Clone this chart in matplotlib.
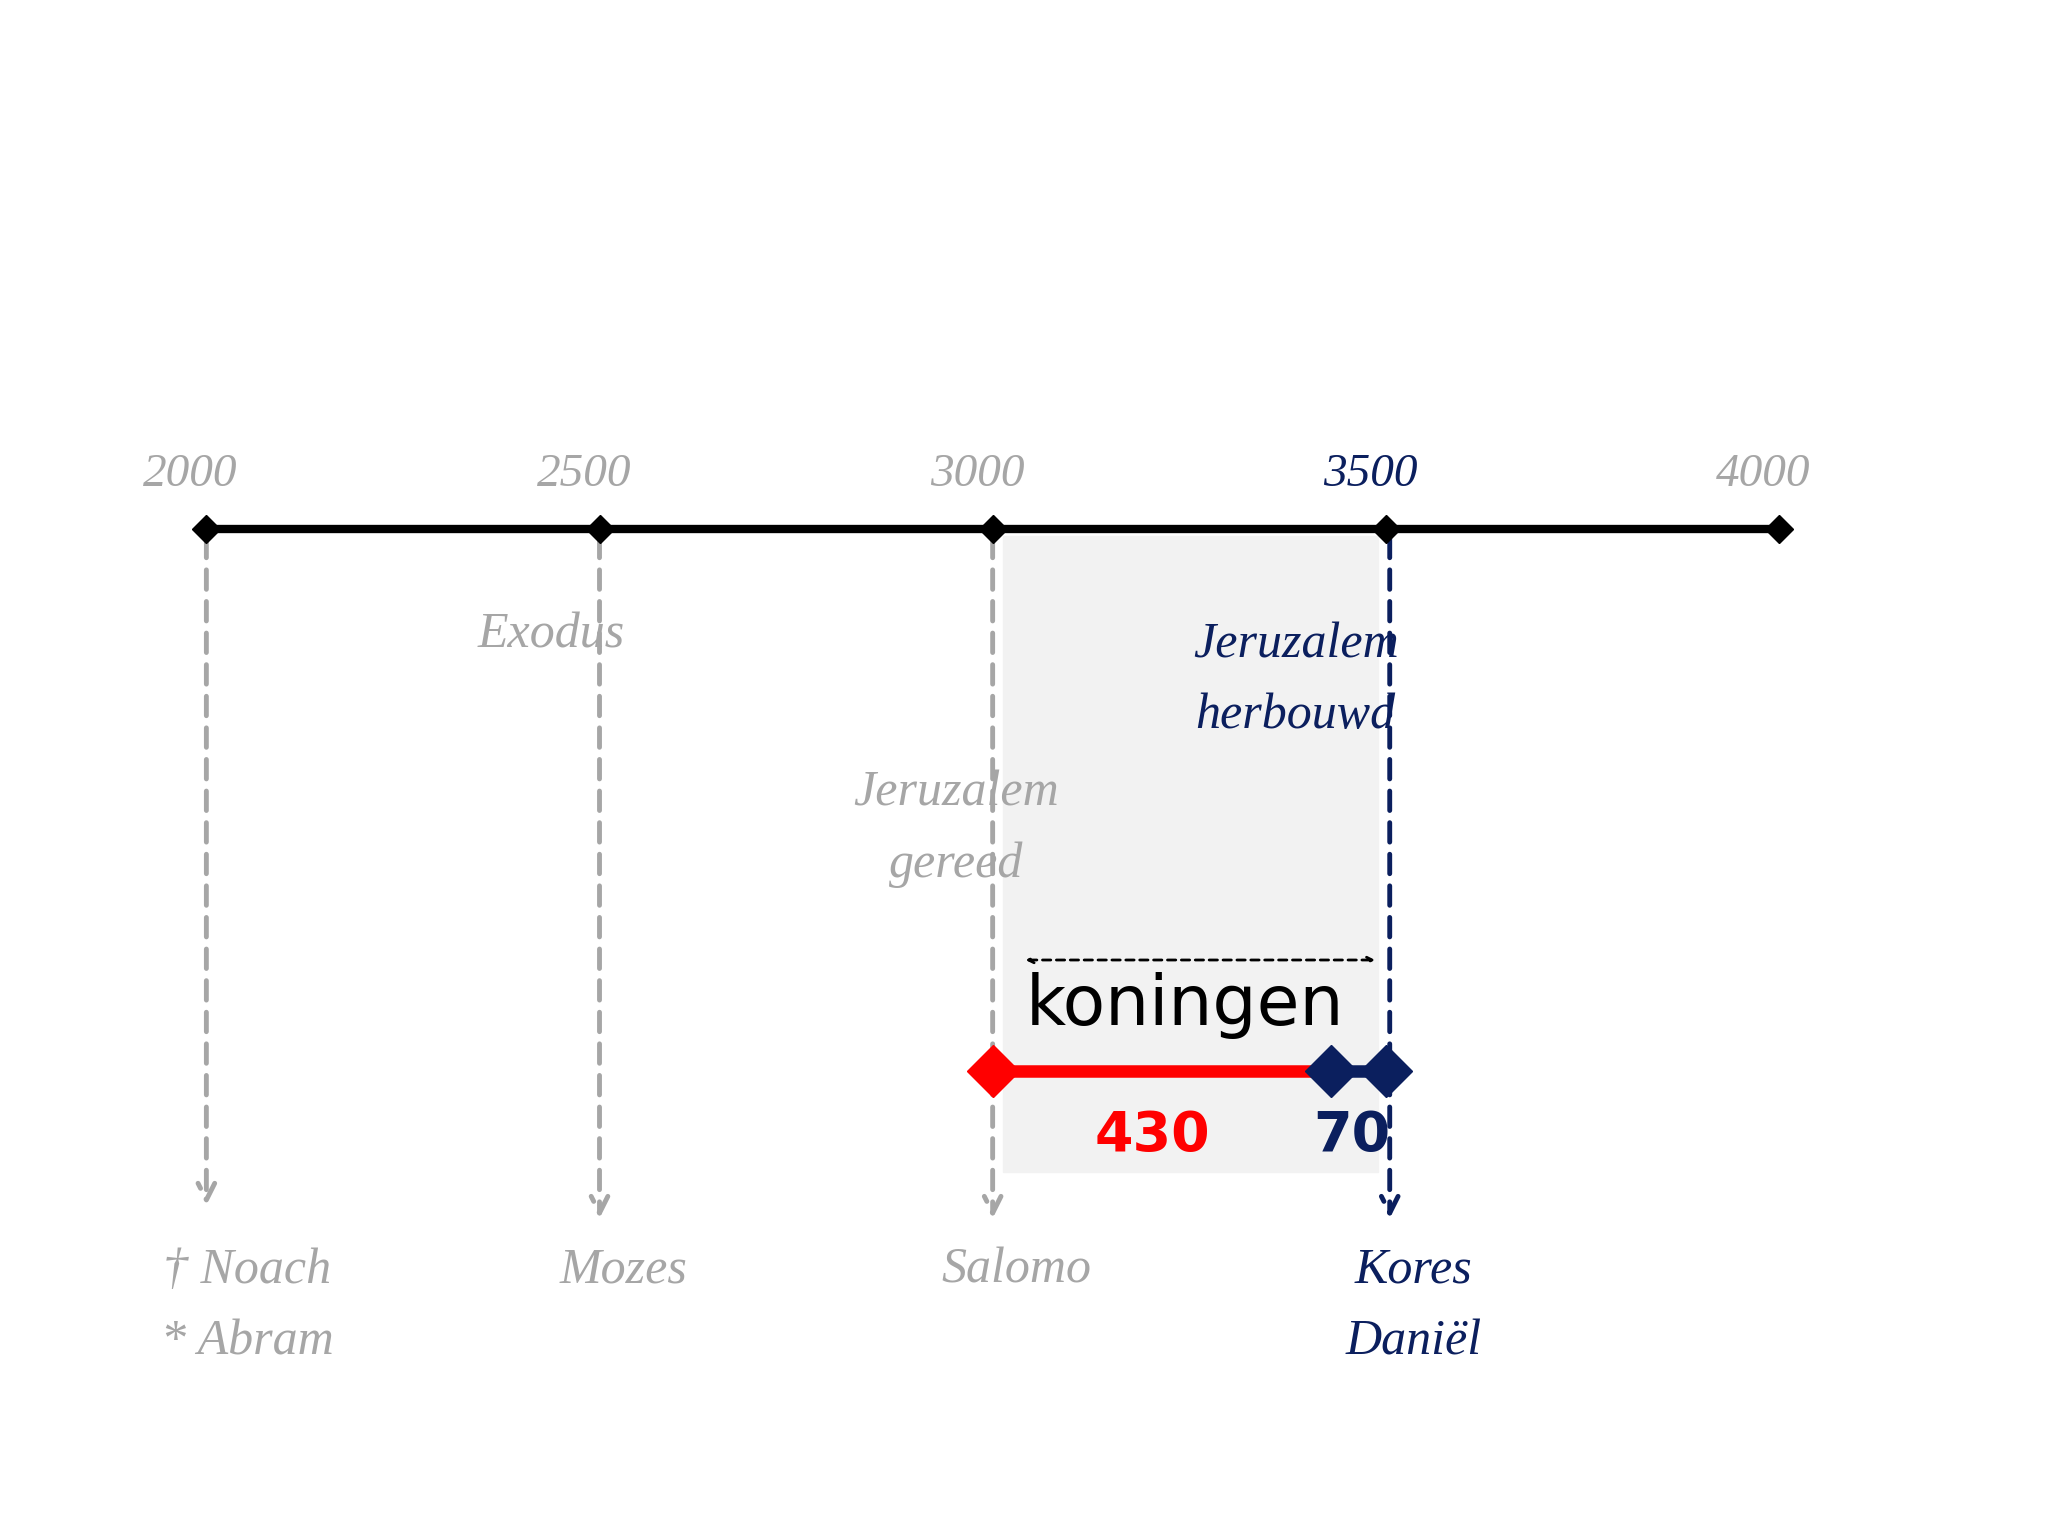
import matplotlib.pyplot as plt

years = [2000, 2500, 3000, 3500, 4000]
tick_labels = ["2000", "2500", "3000", "3500", "4000"]
events = [2000, 2500, 3000, 3505]
bottom_labels = ["† Noach\n* Abram", "Mozes", "Salomo", "Kores\nDaniël"]
period_start = 3000
period_red = 430
period_navy = 70

GREY = "#a6a6a6"
NAVY = "#0b1f5e"
RED = "#ff0000"
SERIF = ["Liberation Serif", "DejaVu Serif"]

def px(x):
    return 2000 + (x - 158) * 500 / 301

fig = plt.figure(figsize=(20.48, 15.36), dpi=100)
ax = fig.add_axes([0, 0, 1, 1])
ax.set_xlim(px(0), px(1568))
ax.set_ylim(1176, 0)
ax.axis("off")

# shaded koningen period
ax.axvspan(px(768), px(1055), ymin=1 - 897 / 1176, ymax=1 - 410 / 1176, color="#f2f2f2", zorder=0)

# main timeline
ax.plot([years[0], years[-1]], [405, 405], color="black", lw=6, zorder=3)
ax.plot(years, [405] * len(years), "D", color="black", ms=14, zorder=4)
for yr, lab in zip(years, tick_labels):
    ax.text(yr - 20, 380, lab, ha="center", va="bottom", fontsize=34,
            family=SERIF, style="italic", color=NAVY if yr == 3500 else GREY)

# dashed event lines with arrows
for i, yr in enumerate(events):
    col = NAVY if yr > 3400 else GREY
    end = 925 if i == 0 else 935
    ax.annotate("", xy=(yr, end), xytext=(yr, 410),
                arrowprops=dict(arrowstyle="->", color=col, lw=3.5, ls=(0, (4, 2.5)),
                                mutation_scale=30), zorder=2)
    ax.text(yr + (52 if i == 0 else 30), 955, bottom_labels[i], ha="center", va="top",
            fontsize=36, family=SERIF, style="italic", color=col, linespacing=1.7)

ax.text(px(422), 486, "Exodus", ha="center", va="center", fontsize=36,
        family=SERIF, style="italic", color=GREY)
ax.text(px(732), 635, "Jeruzalem\ngereed", ha="center", va="center", fontsize=36,
        family=SERIF, style="italic", color=GREY, linespacing=1.7)
ax.text(px(992), 521, "Jeruzalem\nherbouwd", ha="center", va="center", fontsize=36,
        family=SERIF, style="italic", color=NAVY, linespacing=1.7)

# koningen arrow
ax.annotate("", xy=(px(1055), 735), xytext=(px(783), 735),
            arrowprops=dict(arrowstyle="<->", color="black", lw=2, ls=(0, (3, 2))))
ax.text(px(785), 770, "koningen", ha="left", va="center", fontsize=50,
        family="DejaVu Sans", color="black")

# 430 / 70 bar
red_end = period_start + period_red
navy_end = red_end + period_navy
ax.plot([period_start, red_end], [820, 820], color=RED, lw=9, zorder=3)
ax.plot([red_end, navy_end], [820, 820], color=NAVY, lw=9, zorder=3)
ax.plot([period_start], [820], "D", color=RED, ms=26, zorder=4)
ax.plot([red_end, navy_end], [820, 820], "D", color=NAVY, ms=26, zorder=4)
ax.text(px(882), 870, str(period_red), ha="center", va="center", fontsize=40,
        weight="bold", color=RED)
ax.text(px(1035), 870, str(period_navy), ha="center", va="center", fontsize=40,
        weight="bold", color=NAVY)

fig.savefig("out.png", dpi=100)
